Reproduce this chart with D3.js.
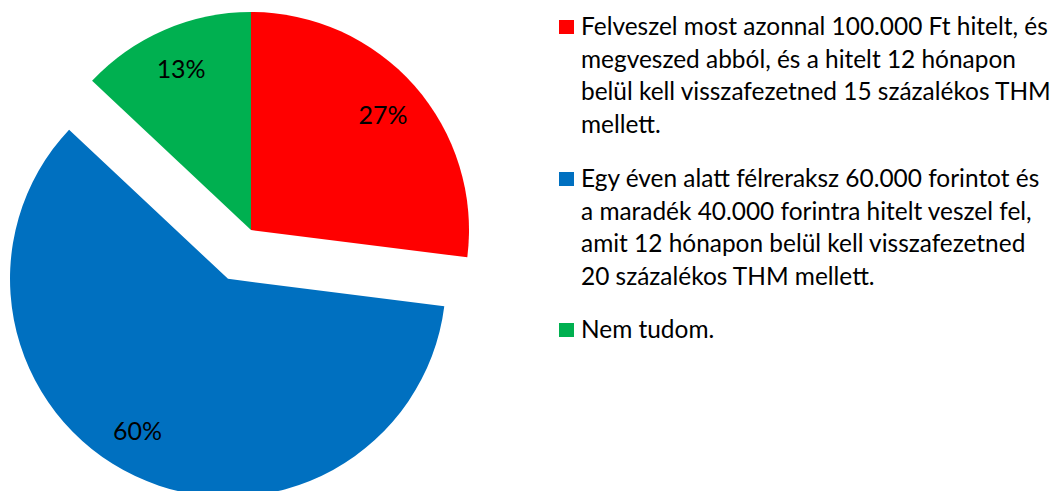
<!DOCTYPE html>
<html><head><meta charset="utf-8">
<script src="https://cdn.jsdelivr.net/npm/d3@7"></script>
<style>html,body{margin:0;padding:0;background:#fff;}svg{display:block;}</style>
</head><body>
<svg id="chart" width="1063" height="491"></svg>
<script>
const categories = [
  "Felveszel most azonnal 100.000 Ft hitelt, és\nmegveszed abból, és a hitelt 12 hónapon\nbelül kell visszafezetned 15 százalékos THM\nmellett.",
  "Egy éven alatt félreraksz 60.000 forintot és\na maradék 40.000 forintra hitelt veszel fel,\namit 12 hónapon belül kell visszafezetned\n20 százalékos THM mellett.",
  "Nem tudom."
];
const values = [27, 60, 13];
const valueLabels = ["27%", "60%", "13%"];
const colors = ["#FF0000", "#0070C0", "#00B050"];
const exploded = [false, true, false];

const FONT = "Lato, 'Open Sans', sans-serif";
const svg = d3.select("#chart");
const cx = 251, cy = 230, R = 218, explodeDist = 54, labelR = 176;

const data = categories.map((c, i) => ({cat: c, value: values[i], label: valueLabels[i], color: colors[i], exploded: exploded[i]}));
const pie = d3.pie().sort(null).value(d => d.value).startAngle(0).endAngle(2 * Math.PI);
const arc = d3.arc().innerRadius(0).outerRadius(R);
const arcs = pie(data);

const g = svg.append("g").attr("transform", `translate(${cx},${cy})`);
const slices = g.selectAll("g.slice").data(arcs).join("g").attr("class", "slice")
  .attr("transform", d => {
    if (!d.data.exploded) return null;
    const a = (d.startAngle + d.endAngle) / 2;
    return `translate(${explodeDist * Math.sin(a)},${-explodeDist * Math.cos(a)})`;
  });
slices.append("path").attr("d", arc).attr("fill", d => d.data.color);

// measure helper
function fitSize(text, targetWidth, base) {
  const t = svg.append("text").attr("font-family", FONT).attr("font-size", base).text(text);
  const w = t.node().getComputedTextLength();
  t.remove();
  return base * targetWidth / w;
}
const pctSize = fitSize("13%", 49, 26);
slices.append("text")
  .attr("x", d => { const a = (d.startAngle + d.endAngle) / 2 + (d.data.exploded ? 0.1 : 0); return labelR * Math.sin(a); })
  .attr("y", d => { const a = (d.startAngle + d.endAngle) / 2 + (d.data.exploded ? 0.1 : 0); return -labelR * Math.cos(a); })
  .attr("text-anchor", "middle").attr("dominant-baseline", "central")
  .attr("font-family", FONT).attr("font-size", pctSize).attr("fill", "#000")
  .text(d => d.data.label);

// legend
const legSize = fitSize("Felveszel most azonnal 100.000 Ft hitelt, és", 467, 22);
const lineH = 32.5;
const entryTop = [35, 187, 338];
const leg = svg.append("g");
data.forEach((d, i) => {
  const lines = d.cat.split("\n");
  leg.append("rect").attr("x", 559).attr("y", entryTop[i] - 15).attr("width", 15).attr("height", 14).attr("fill", d.color);
  const t = leg.append("text").attr("font-family", FONT).attr("font-size", legSize).attr("fill", "#000");
  lines.forEach((ln, j) => {
    t.append("tspan").attr("x", 581).attr("y", entryTop[i] + j * lineH).text(ln);
  });
});
</script>
</body></html>
